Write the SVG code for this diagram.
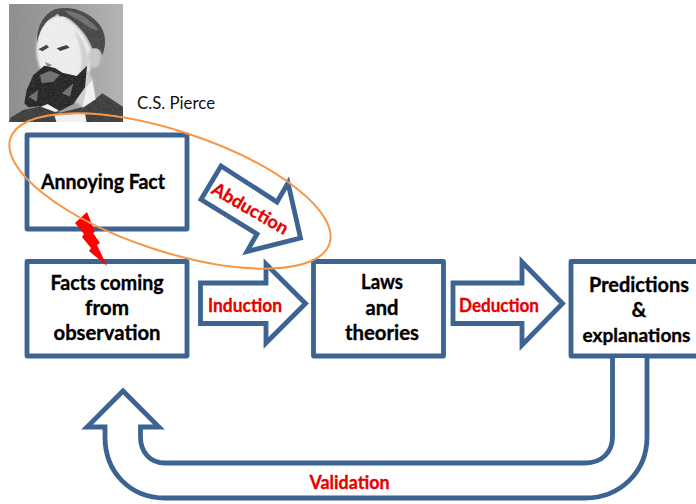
<svg xmlns="http://www.w3.org/2000/svg" width="696" height="504" viewBox="0 0 696 504">
<style>
.box{fill:#fff;stroke:#3c6391;stroke-width:4.8;stroke-linejoin:round}
.arrow{fill:#fff;stroke:#3c6391;stroke-width:4.8;stroke-linejoin:miter}
.t{font-family:"Lato","Carlito","Liberation Sans",sans-serif;font-weight:700;font-size:20.500px;fill:#000;stroke:#000;stroke-width:.35;text-anchor:middle}
.l{font-family:"Lato","Carlito","Liberation Sans",sans-serif;font-weight:700;font-size:18px;fill:#e60000;stroke:#e60000;stroke-width:.3;text-anchor:middle}
</style>
<defs>
<filter id="soft" x="-10%" y="-10%" width="120%" height="120%"><feGaussianBlur stdDeviation="2.500"/></filter>
<filter id="softer" x="-10%" y="-10%" width="120%" height="120%"><feGaussianBlur stdDeviation="2"/></filter>
<filter id="grain" x="0" y="0" width="100%" height="100%"><feTurbulence type="fractalNoise" baseFrequency=".6" numOctaves="2" seed="4"/><feColorMatrix values="0 0 0 0 .5 0 0 0 0 .5 0 0 0 0 .5 1.500 0 0 0 -.5"/></filter>
<linearGradient id="bg" x1="0" y1="0" x2="1" y2="0"><stop offset="0" stop-color="#8c8c8c"/><stop offset=".6" stop-color="#a0a0a0"/><stop offset="1" stop-color="#b4b4b4"/></linearGradient>
<clipPath id="pc"><rect x="12" y="12" width="342" height="354"/></clipPath>
</defs>
<rect width="696" height="504" fill="#fff"/>
<g id="portrait" transform="translate(5 0) scale(.33333)" clip-path="url(#pc)">
<rect x="12" y="12" width="342" height="354" fill="url(#bg)"/>
<g filter="url(#soft)">
<path d="M96,130C100,70 135,48 170,46C205,62 245,105 258,150L255,215L205,250L105,205C95,175 92,150 96,130Z" fill="#f0f0f0"/>
<path d="M205,90C235,115 250,150 250,205L225,225C235,170 225,125 205,90Z" fill="#d2d2d2"/>
<ellipse cx="268" cy="172" rx="19" ry="32" fill="#cacaca"/>
<path d="M240,205L262,235L270,300L235,325L205,300Z" fill="#cfcfcf"/>
</g>
<g filter="url(#softer)">
<path d="M12,366L18,352L55,330L110,318L165,338L230,322L272,296L292,280L354,320V366Z" fill="#3a3a3a"/>
<path d="M96,128C94,85 112,45 150,28C200,15 250,35 280,70C302,95 306,130 292,165C288,150 278,142 262,146C255,120 235,92 208,68C190,52 175,46 165,50C160,40 155,38 150,48C125,58 105,85 96,128Z" fill="#454545"/>
<path d="M178,32C215,32 250,52 280,88C270,100 240,70 205,52Z" fill="#6e6e6e"/>
<path d="M100,148L125,134L132,142L112,154ZM155,145L185,135L194,143L165,153Z" fill="#3a3a3a"/>
<path d="M120,186L142,195L128,203Z" fill="#8a8a8a"/>
<path d="M118,197L85,225L65,270L58,310L70,322L110,318L160,335L205,312L240,262L246,197L215,228L172,218L150,204Z" fill="#202020"/>
<path d="M105,225L135,212L165,224L145,245L110,250ZM70,290L100,270L95,305ZM170,280L205,250L195,290Z" fill="#6e6e6e"/>
<path d="M262,240L272,298L232,324L244,262ZM108,320L128,312L162,332L150,336ZM148,346L240,340L245,368H155Z" fill="#f4f4f4"/>
</g>
<rect x="12" y="12" width="342" height="354" filter="url(#grain)" opacity=".25"/>
</g>
<text x="137" y="109" style="font-family:'Lato','Carlito','Liberation Sans',sans-serif;font-size:17px;fill:#111" textLength="78" lengthAdjust="spacingAndGlyphs">C.S. Pierce</text>
<g id="annoying-fact">
<rect class="box" x="27" y="135" width="160" height="94"/>
<text class="t" x="103" y="189" textLength="124" lengthAdjust="spacingAndGlyphs">Annoying Fact</text>
</g>
<g id="facts">
<rect class="box" x="27" y="261.500" width="160" height="94.500"/>
<text class="t" x="107" y="290" textLength="113" lengthAdjust="spacingAndGlyphs">Facts coming</text>
<text class="t" x="107" y="315" textLength="44" lengthAdjust="spacingAndGlyphs">from</text>
<text class="t" x="107" y="340" textLength="107" lengthAdjust="spacingAndGlyphs">observation</text>
</g>
<g id="laws">
<rect class="box" x="313.500" y="261.500" width="130" height="94.500"/>
<text class="t" x="382" y="289" textLength="42" lengthAdjust="spacingAndGlyphs">Laws</text>
<text class="t" x="382" y="315" textLength="33" lengthAdjust="spacingAndGlyphs">and</text>
<text class="t" x="382" y="340" textLength="74" lengthAdjust="spacingAndGlyphs">theories</text>
</g>
<g id="predictions">
<rect class="box" x="571" y="261.500" width="140" height="94.500"/>
<text class="t" x="639" y="292" textLength="100" lengthAdjust="spacingAndGlyphs">Predictions</text>
<text class="t" x="639" y="317">&amp;</text>
<text class="t" x="636.500" y="342" style="font-size:19px" textLength="108" lengthAdjust="spacingAndGlyphs">explanations</text>
</g>
<g id="connectors">
<path class="arrow" d="M221,166L277,202L288,183L300.500,238L247,251.500L257,234L201,199.500Z"/>
<text class="l" transform="translate(247,214) rotate(30)" textLength="85" lengthAdjust="spacingAndGlyphs">Abduction</text>
<path class="arrow" d="M200.500,283H266V264L305.500,303.500L266,343V323.500H200.500Z"/>
<text class="l" x="245" y="312" textLength="74" lengthAdjust="spacingAndGlyphs">Induction</text>
<path class="arrow" d="M453,283H522V262L562.500,303.500L522,345V323.500H453Z"/>
<text class="l" x="499" y="312" textLength="80" lengthAdjust="spacingAndGlyphs">Deduction</text>
<path class="arrow" d="M612.500,358V437C612.500,452 602,463 585,463H165C150,463 140.500,452 140.500,437V427H159L123,391L87,427H105V437C105,472 130,498 165,498H585C620,498 647,472 647,437V358" stroke-linejoin="round"/>
<text class="l" x="349.500" y="489" textLength="80" lengthAdjust="spacingAndGlyphs">Validation</text>
<path id="bolt" d="M87,212L95,232L93,233L100,243L97,245L107,266L89,251L91,248L82,237L84,234L75,223Z" fill="#f00"/>
<ellipse cx="170" cy="191" rx="168" ry="60" transform="rotate(18.300 170 191)" fill="none" stroke="#f79646" stroke-width="2"/>
</g>
</svg>
